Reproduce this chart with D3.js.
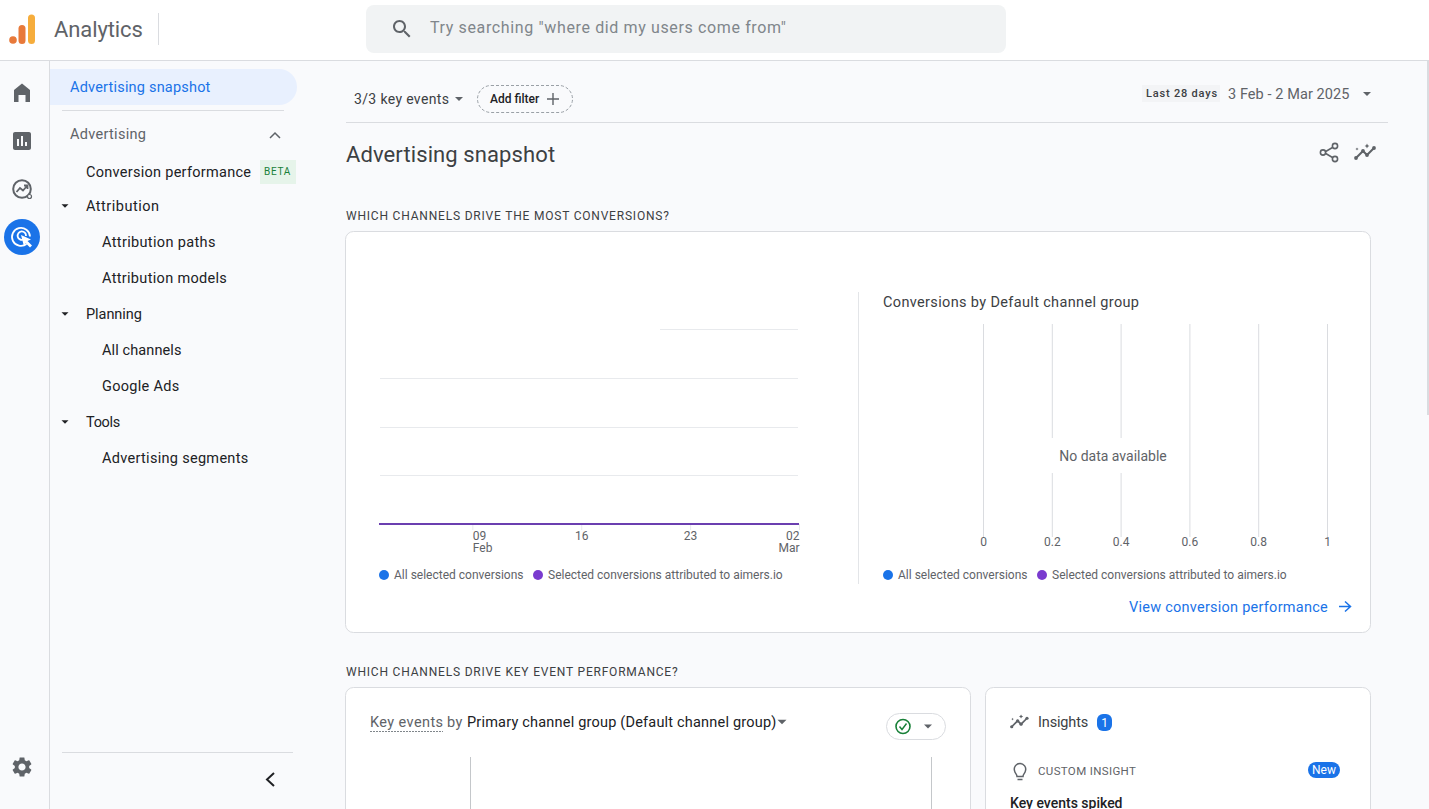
<!DOCTYPE html>
<html>
<head>
<meta charset="utf-8">
<title>Advertising snapshot</title>
<script src="https://cdn.jsdelivr.net/npm/d3@7/dist/d3.min.js"></script>
<style>
  html, body { margin: 0; padding: 0; background: #f9fafc; overflow: hidden; }
  svg { display: block; font-family: Roboto, sans-serif; }
</style>
</head>
<body>
<svg id="page" width="1429" height="809"></svg>
<script>
// chart data, all zero because the property has no conversions in this range
const days = ["2025-02-03","2025-02-04","2025-02-05","2025-02-06","2025-02-07","2025-02-08","2025-02-09",
  "2025-02-10","2025-02-11","2025-02-12","2025-02-13","2025-02-14","2025-02-15","2025-02-16",
  "2025-02-17","2025-02-18","2025-02-19","2025-02-20","2025-02-21","2025-02-22","2025-02-23",
  "2025-02-24","2025-02-25","2025-02-26","2025-02-27","2025-02-28","2025-03-01","2025-03-02"];
const allConversions = [0,0,0,0,0,0,0,0,0,0,0,0,0,0,0,0,0,0,0,0,0,0,0,0,0,0,0,0];
const attributedConversions = [0,0,0,0,0,0,0,0,0,0,0,0,0,0,0,0,0,0,0,0,0,0,0,0,0,0,0,0];
const seriesNames = ["All selected conversions", "Selected conversions attributed to aimers.io"];
const lineTicks = ["2025-02-09","2025-02-16","2025-02-23","2025-03-02"];
const lineTickMonths = ["Feb", "", "", "Mar"];
const yTicks = [0, 1, 2, 3, 4];
const barTicks = [0, 0.2, 0.4, 0.6, 0.8, 1];

const BLUE = "#1a73e8", PURPLE = "#7a3bcf", INK = "#3c4043", GREY = "#5f6368", RULE = "#dadce0", BG = "#f9fafc";
const parseDay = d3.utcParse("%Y-%m-%d");
const svg = d3.select("#page");

function label(x, y, str, size, fill, opts) {
  opts = opts || {};
  return svg.append("text").attr("x", x).attr("y", y).text(str)
    .attr("font-size", size).attr("fill", fill)
    .attr("text-anchor", opts.anchor || "start")
    .attr("font-weight", opts.weight || 400)
    .attr("letter-spacing", opts.spacing || 0);
}
function rule(x1, y1, x2, y2, color) {
  return svg.append("line").attr("x1", x1).attr("y1", y1).attr("x2", x2).attr("y2", y2)
    .attr("stroke", color || RULE).attr("stroke-width", 1);
}
// icons are drawn in a 24 box
function icon(d, x, y, size, fill) {
  return svg.append("path").attr("d", d).attr("fill", fill || GREY)
    .attr("transform", `translate(${x},${y}) scale(${size / 24})`);
}
const caret = (x, y, size, fill) => svg.append("path")
  .attr("d", `M${x - size},${y - size / 2}L${x + size},${y - size / 2}L${x},${y + size / 2}Z`).attr("fill", fill || GREY);

// ---- page frame
svg.append("rect").attr("width", 1429).attr("height", 809).attr("fill", BG);
svg.append("rect").attr("width", 1429).attr("height", 60).attr("fill", "#fff");
rule(0, 60.5, 1429, 60.5);
rule(49.5, 61, 49.5, 809);
svg.append("rect").attr("x", 1427).attr("y", 61).attr("width", 2).attr("height", 354).attr("fill", "#dadce0");

// ---- header
svg.append("circle").attr("cx", 13).attr("cy", 40).attr("r", 3.8).attr("fill", "#e8793a");
svg.append("rect").attr("x", 18.5).attr("y", 25).attr("width", 7).attr("height", 19).attr("rx", 3.5).attr("fill", "#e8793a");
svg.append("rect").attr("x", 28).attr("y", 14.5).attr("width", 7).attr("height", 29.5).attr("rx", 3.5).attr("fill", "#f6ad3c");
label(54, 37, "Analytics", 22, GREY, { spacing: -0.1 });
rule(158.5, 13, 158.5, 45);
svg.append("rect").attr("x", 366).attr("y", 5).attr("width", 640).attr("height", 48).attr("rx", 8).attr("fill", "#f1f3f4");
icon("M15.5 14h-.79l-.28-.27C15.41 12.59 16 11.11 16 9.5 16 5.91 13.09 3 9.5 3S3 5.91 3 9.5 5.91 16 9.5 16c1.61 0 3.09-.59 4.23-1.57l.27.28v.79l5 4.99L20.49 19l-4.99-5zm-6 0C7.01 14 5 11.99 5 9.5S7.01 5 9.5 5 14 7.01 14 9.5 11.99 14 9.5 14z", 390, 17, 24);
label(430, 33, "Try searching \"where did my users come from\"", 16, "#80868b", { spacing: 0.63 });

// ---- icon rail
svg.append("path").attr("d", "M14,90L22,83.5L30,90V102H25.5V95H18.5V102H14Z").attr("fill", GREY);
icon("M19 3H5c-1.1 0-2 .9-2 2v14c0 1.1.9 2 2 2h14c1.1 0 2-.9 2-2V5c0-1.1-.9-2-2-2zM9 17H7v-7h2v7zm4 0h-2V7h2v10zm4 0h-2v-4h2v4z", 10, 129, 24);
svg.append("circle").attr("cx", 22).attr("cy", 189).attr("r", 8.8).attr("fill", "none").attr("stroke", GREY).attr("stroke-width", 2);
svg.append("path").attr("d", "M16.5,192L20,188L23,190.5L27,186M24,185.5H27.5V189").attr("fill", "none").attr("stroke", GREY).attr("stroke-width", 1.8);
svg.append("circle").attr("cx", 29.5).attr("cy", 196.5).attr("r", 2).attr("fill", BG).attr("stroke", GREY).attr("stroke-width", 1.2);
svg.append("circle").attr("cx", 22).attr("cy", 237).attr("r", 18).attr("fill", BLUE);
svg.append("path").attr("d", "M26.5,244A9,9 0 1 1 30,236.5M23.5,239.5A4.2,4.2 0 1 1 26,236")
  .attr("fill", "none").attr("stroke", "#fff").attr("stroke-width", 1.8);
svg.append("path").attr("d", "M21,235L31,239.5L27.5,241L32,245.5L30,247.5L25.5,243L24,246.5Z").attr("fill", "#fff");
icon("M19.14 12.94c.04-.3.06-.61.06-.94 0-.32-.02-.64-.07-.94l2.03-1.58c.18-.14.23-.41.12-.61l-1.92-3.32c-.12-.22-.37-.29-.59-.22l-2.39.96c-.5-.38-1.03-.7-1.62-.94l-.36-2.54c-.04-.24-.24-.41-.48-.41h-3.84c-.24 0-.43.17-.47.41l-.36 2.54c-.59.24-1.13.57-1.62.94l-2.39-.96c-.22-.08-.47 0-.59.22L2.74 8.87c-.12.21-.08.47.12.61l2.03 1.58c-.05.3-.09.63-.09.94s.02.64.07.94l-2.03 1.58c-.18.14-.23.41-.12.61l1.92 3.32c.12.22.37.29.59.22l2.39-.96c.5.38 1.03.7 1.62.94l.36 2.54c.05.24.24.41.48.41h3.84c.24 0 .44-.17.47-.41l.36-2.54c.59-.24 1.13-.56 1.62-.94l2.39.96c.22.08.47 0 .59-.22l1.92-3.32c.12-.22.07-.47-.12-.61l-2.01-1.58zM12 15.6c-1.98 0-3.6-1.62-3.6-3.6s1.62-3.6 3.6-3.6 3.6 1.62 3.6 3.6-1.62 3.6-3.6 3.6z", 10, 755, 24);

// ---- side nav
svg.append("path").attr("d", "M50,69H279A18,18 0 0 1 279,105H50Z").attr("fill", "#e8f0fe");
label(70, 92, "Advertising snapshot", 14.5, BLUE, { spacing: 0.2 });
rule(62, 110.5, 284, 110.5);
label(70, 139, "Advertising", 14.5, GREY, { spacing: 0.3 });
svg.append("path").attr("d", "M270,138L275,133L280,138").attr("fill", "none").attr("stroke", GREY).attr("stroke-width", 1.5);
label(86, 177, "Conversion performance", 14.5, "#202124", { spacing: 0.28 });
svg.append("rect").attr("x", 260).attr("y", 160).attr("width", 36).attr("height", 24).attr("fill", "#e6f4ea");
label(264, 175, "BETA", 10, "#188038", { spacing: 0.7 });
[["Attribution", 211, 206, 0.5], ["Planning", 319, 314, -0.05], ["Tools", 427, 422, -0.3]].forEach(([name, y, c, s]) => {
  label(86, y, name, 14.5, "#202124", { spacing: s });
  caret(65, c, 3.5, "#202124");
});
[["Attribution paths", 247, 0.35], ["Attribution models", 283, 0.32], ["All channels", 355, 0.1], ["Google Ads", 391, 0.3], ["Advertising segments", 463, 0.3]]
  .forEach(([name, y, s]) => label(102, y, name, 14.5, "#202124", { spacing: s }));
rule(62, 752.5, 293, 752.5);
svg.append("path").attr("d", "M274,773L267,779.5L274,786").attr("fill", "none").attr("stroke", "#202124").attr("stroke-width", 2);

// ---- toolbar
label(354, 104, "3/3 key events", 14, INK, { spacing: 0.35 });
caret(459, 99, 4, GREY);
svg.append("rect").attr("x", 477.5).attr("y", 85.5).attr("width", 95).attr("height", 27).attr("rx", 13.5)
  .attr("fill", "none").attr("stroke", "#9aa0a6").attr("stroke-dasharray", "3 2");
label(490, 103, "Add filter", 12, "#202124", { weight: 500 });
svg.append("path").attr("d", "M553,93V105M547,99H559").attr("stroke", GREY).attr("stroke-width", 1.4);
svg.append("rect").attr("x", 1142).attr("y", 85).attr("width", 78).attr("height", 17).attr("fill", "#f3f4f6");
label(1146, 97, "Last 28 days", 11, INK, { weight: 500, spacing: 0.8 });
label(1228, 99, "3 Feb - 2 Mar 2025", 14.5, GREY, { spacing: 0.08 });
caret(1367, 94, 4, GREY);
rule(346, 122.5, 1388, 122.5);
label(346, 162, "Advertising snapshot", 22, INK, { spacing: 0.1 });

// share icon
svg.append("path").attr("d", "M1335,146L1324,152.5L1335,159").attr("fill", "none").attr("stroke", GREY).attr("stroke-width", 1.6);
[[1335, 146], [1323, 152.5], [1335, 159]].forEach(([cx, cy]) => svg.append("circle").attr("cx", cx).attr("cy", cy).attr("r", 2.6)
  .attr("fill", BG).attr("stroke", GREY).attr("stroke-width", 1.6));
function insightsIcon(x, y, k) {
  const g = svg.append("g").attr("transform", `translate(${x},${y}) scale(${k})`);
  g.append("path").attr("d", "M2,15L9,8L13,12L20,5").attr("fill", "none").attr("stroke", GREY).attr("stroke-width", 2);
  [[2, 15], [9, 8], [13, 12], [20, 5]].forEach(([cx, cy]) => g.append("circle").attr("cx", cx).attr("cy", cy).attr("r", 1.9).attr("fill", GREY));
  [[3, 6, 1.6], [13, 3, 2.4]].forEach(([cx, cy, r]) => g.append("path")
    .attr("d", `M${cx},${cy - r}L${cx + r / 3},${cy - r / 3}L${cx + r},${cy}L${cx + r / 3},${cy + r / 3}L${cx},${cy + r}L${cx - r / 3},${cy + r / 3}L${cx - r},${cy}L${cx - r / 3},${cy - r / 3}Z`).attr("fill", GREY));
}
insightsIcon(1354, 143, 1);

// ---- cards
label(346, 220, "WHICH CHANNELS DRIVE THE MOST CONVERSIONS?", 12, INK, { weight: 400, spacing: 0.8 });
label(346, 676, "WHICH CHANNELS DRIVE KEY EVENT PERFORMANCE?", 12, INK, { weight: 400, spacing: 0.8 });
[[345.5, 231.5, 1025, 401], [345.5, 687.5, 625, 140], [985.5, 687.5, 385, 140]].forEach(([x, y, w, h]) =>
  svg.append("rect").attr("x", x).attr("y", y).attr("width", w).attr("height", h).attr("rx", 8)
    .attr("fill", "#fff").attr("stroke", RULE));
rule(858.5, 292, 858.5, 584, "#e3e5e8");

// ---- line chart
const xTime = d3.scaleUtc().domain([parseDay(days[0]), parseDay(days[days.length - 1])]).range([379, 799]);
const yCount = d3.scaleLinear().domain([0, 4]).range([524, 329]);

svg.append("g").selectAll("line").data(yTicks.filter(t => t > 0)).join("line")
  .attr("x1", t => t === 4 ? 660 : 380).attr("x2", 798)
  .attr("y1", t => Math.round(yCount(t)) + 0.5).attr("y2", t => Math.round(yCount(t)) + 0.5)
  .attr("stroke", "#e8eaed");

const xAxis = d3.axisBottom(xTime).tickValues(lineTicks.map(parseDay)).tickSize(6).tickPadding(3)
  .tickFormat(d3.utcFormat("%d"));
const xAxisG = svg.append("g").attr("transform", "translate(0,524)").call(xAxis);
xAxisG.select(".domain").remove();
xAxisG.selectAll("line").attr("stroke", "#e8eaed");
xAxisG.selectAll("text").attr("font-size", 12).attr("fill", GREY).attr("font-family", "Roboto").attr("dy", "0.72em").attr("y", 7)
  .attr("text-anchor", (d, i) => i === 0 ? "start" : i === 3 ? "end" : "middle");
xAxisG.selectAll("g.tick").append("text").attr("y", 19).attr("dy", "0.72em")
  .attr("font-size", 12).attr("fill", GREY).attr("font-family", "Roboto")
  .attr("text-anchor", (d, i) => i === 3 ? "end" : "start")
  .text((d, i) => lineTickMonths[i]);

const line = d3.line().x((v, i) => xTime(parseDay(days[i]))).y(v => yCount(v));
[[allConversions, BLUE], [attributedConversions, "#6b3fb0"]].forEach(([values, color]) =>
  svg.append("path").datum(values).attr("d", line).attr("fill", "none").attr("stroke", color).attr("stroke-width", 2));

function legend(x1, x2, x3, x4) {
  [[x1, BLUE], [x3, PURPLE]].forEach(([cx, color]) => svg.append("circle").attr("cx", cx).attr("cy", 575).attr("r", 5).attr("fill", color));
  label(x2, 579, seriesNames[0], 12, GREY);
  label(x4, 579, seriesNames[1], 12, GREY);
}
legend(384, 394, 538, 548);

// ---- bar chart (empty)
label(883, 307, "Conversions by Default channel group", 14.5, INK, { spacing: 0.35 });
const xBar = d3.scaleLinear().domain([0, 1]).range([983, 1327]);
const barAxis = d3.axisBottom(xBar).tickValues(barTicks).tickSize(213).tickPadding(0).tickFormat(d => d);
const barG = svg.append("g").attr("transform", "translate(0,324)").call(barAxis);
barG.select(".domain").remove();
barG.selectAll("line").attr("stroke", "#dadce0");
barG.selectAll("text").attr("font-size", 12).attr("fill", GREY).attr("font-family", "Roboto");
svg.append("rect").attr("x", 1045).attr("y", 438).attr("width", 136).attr("height", 35).attr("fill", "#fff");
label(1113, 461, "No data available", 14, GREY, { anchor: "middle" });
legend(888, 898, 1042, 1052);

label(1129, 612, "View conversion performance", 14.5, BLUE, { spacing: 0.25 });
svg.append("path").attr("d", "M1339,606.5H1350M1345,601.5L1350.5,606.5L1345,611.5").attr("fill", "none").attr("stroke", BLUE).attr("stroke-width", 1.5);

// ---- key events card
label(370, 727, "Key events", 14.5, GREY, { spacing: 0.4 });
rule(370, 731.5, 443, 731.5, "#80868b").attr("stroke-dasharray", "2 1");
label(447, 727, "by", 14.5, GREY, { spacing: 0.4 });
label(467, 727, "Primary channel group (Default channel group)", 14.5, "#202124", { spacing: 0.2 });
caret(782, 722, 4.5, GREY);
svg.append("rect").attr("x", 886.5).attr("y", 713.5).attr("width", 59).attr("height", 26).attr("rx", 13).attr("fill", "#fff").attr("stroke", RULE);
svg.append("circle").attr("cx", 903).attr("cy", 726.5).attr("r", 7).attr("fill", "none").attr("stroke", "#188038").attr("stroke-width", 1.6);
svg.append("path").attr("d", "M899.5,726.5L902,729.5L906.5,723.5").attr("fill", "none").attr("stroke", "#188038").attr("stroke-width", 1.4);
caret(928, 726.5, 4, GREY);
const xKey = d3.scaleLinear().domain([0, 1]).range([470.5, 931.5]);
svg.append("g").selectAll("line").data([0, 1]).join("line")
  .attr("x1", xKey).attr("x2", xKey).attr("y1", 757).attr("y2", 809).attr("stroke", "#c4c7ca");

// ---- insights card
insightsIcon(1010, 714, 0.85);
label(1038, 727, "Insights", 14.5, INK, { spacing: -0.15 });
svg.append("rect").attr("x", 1097).attr("y", 714).attr("width", 15).attr("height", 17).attr("rx", 6).attr("fill", BLUE);
label(1104.5, 727, "1", 12, "#fff", { anchor: "middle" });
svg.append("path").attr("d", "M1017,776.5C1017,774 1015,773.5 1014.6,771A5.7,5.7 0 1 1 1025.4,771C1025,773.5 1023,774 1023,776.5ZM1017.5,779.5H1022.5")
  .attr("fill", "none").attr("stroke", GREY).attr("stroke-width", 1.5);
label(1038, 775, "CUSTOM INSIGHT", 11.5, GREY, { spacing: 0.35 });
svg.append("rect").attr("x", 1308).attr("y", 762).attr("width", 32).attr("height", 16).attr("rx", 8).attr("fill", BLUE);
label(1324, 774, "New", 12, "#fff", { anchor: "middle" });
label(1010, 808, "Key events spiked", 14, "#202124", { weight: 500 });
</script>
</body>
</html>
